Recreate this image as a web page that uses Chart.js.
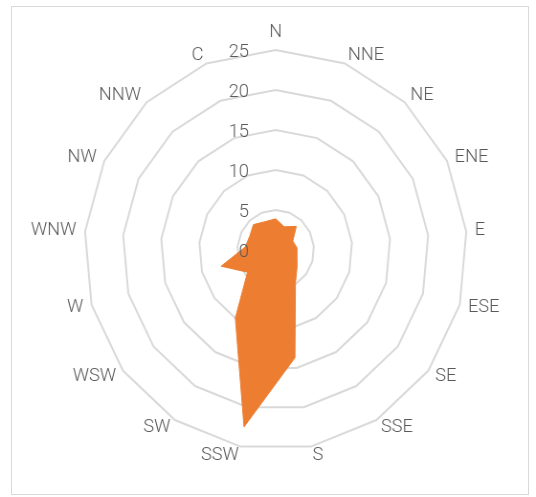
<!DOCTYPE html>
<html>
<head>
<meta charset="utf-8">
<script src="https://cdn.jsdelivr.net/npm/chart.js@4"></script>
<style>
  html, body { margin: 0; padding: 0; background: #fff; overflow: hidden; }
  #frame {
    position: absolute; left: 11px; top: 6px; width: 518px; height: 489px;
    border: 1px solid #d9d9d9; box-sizing: border-box;
  }
  /* o original é levemente comprimido na horizontal */
  #wrap {
    position: absolute; left: 0; top: 0; width: 560px; height: 497px;
    transform: scaleX(0.9571); transform-origin: 0 0;
  }
</style>
</head>
<body>
<div id="frame"></div>
<div id="wrap"><canvas id="rose"></canvas></div>
<script>
// direções do vento (16 setores + calmaria)
const directions = ['N', 'NNE', 'NE', 'ENE', 'E', 'ESE', 'SE', 'SSE', 'S',
  'SSW', 'SW', 'WSW', 'W', 'WNW', 'NW', 'NNW', 'C'];
// frequência (%) por direção
const frequency = [3.9, 3.1, 4.0, 2.5, 2.8, 2.9, 3.5, 4.9, 13.7,
  22.5, 10.0, 4.6, 7.4, 4.0, 3.8, 4.3, 3.8];
const tickStep = 5;
const tickMax = 25;

const labelColor = '#595959';
const labelFont = '300 19px Roboto, "Noto Sans", sans-serif';

// rótulos no estilo do Excel: eixo à esquerda e direções fora do polígono
const excelLabels = {
  id: 'excelLabels',
  afterDatasetsDraw(chart) {
    const scale = chart.scales.r;
    const ctx = chart.ctx;
    ctx.save();
    ctx.fillStyle = labelColor;
    ctx.font = labelFont;

    // valores do eixo
    ctx.textAlign = 'right';
    ctx.textBaseline = 'middle';
    scale.ticks.forEach(t => {
      const d = scale.getDistanceFromCenterForValue(t.value);
      ctx.fillText(String(t.value), scale.xCenter - 28, scale.yCenter - d + 2);
    });

    // nomes das direções
    const outer = scale.drawingArea + 9;
    directions.forEach((name, i) => {
      const p = scale.getPointPosition(i, outer);
      const sin = Math.sin(p.angle + Math.PI / 2);
      let y = p.y;
      if (Math.abs(sin) < 0.05) {
        ctx.textAlign = 'center';
        if (p.y < scale.yCenter) y -= 9;
      } else {
        ctx.textAlign = sin > 0 ? 'left' : 'right';
      }
      ctx.fillText(name, p.x, y);
    });
    ctx.restore();
  }
};

new Chart(document.getElementById('rose'), {
  type: 'radar',
  data: {
    labels: directions,
    datasets: [{
      data: frequency,
      backgroundColor: '#ED7D31',
      borderColor: '#ED7D31',
      borderWidth: 1,
      fill: true,
      pointRadius: 0,
      pointHoverRadius: 0
    }]
  },
  options: {
    responsive: true,
    maintainAspectRatio: false,
    animation: false,
    layout: { padding: { left: 78, right: 62, top: 50, bottom: 47 } },
    plugins: { legend: { display: false }, tooltip: { enabled: false } },
    scales: {
      r: {
        min: 0,
        max: tickMax,
        ticks: { stepSize: tickStep, display: false },
        grid: { color: '#d9d9d9', lineWidth: 2, circular: false },
        angleLines: { display: false },
        pointLabels: { display: false }
      }
    }
  },
  plugins: [excelLabels]
});
</script>
</body>
</html>
